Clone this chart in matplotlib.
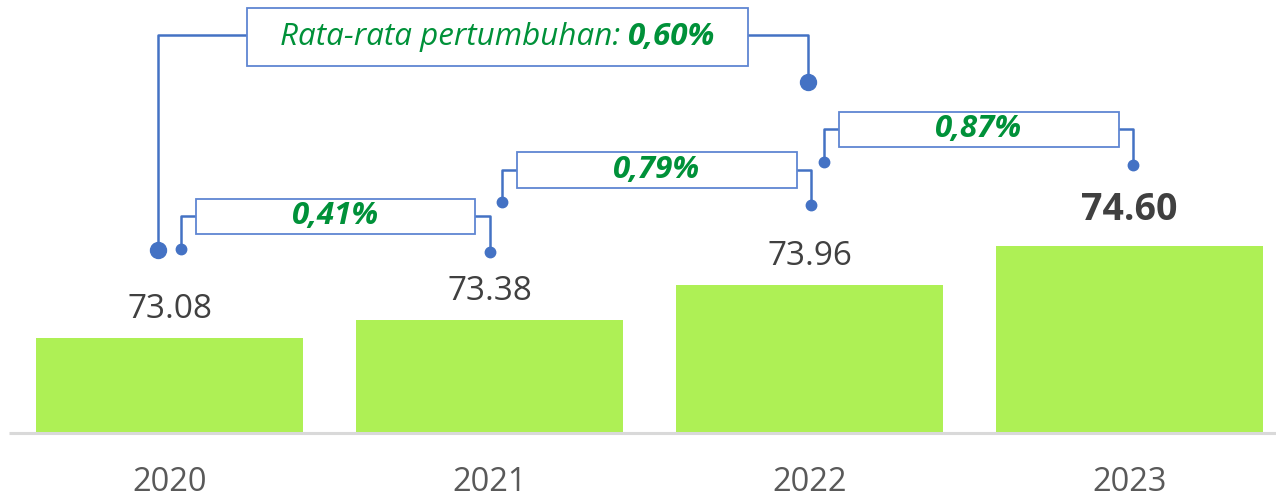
import matplotlib.pyplot as plt
from matplotlib.patches import Rectangle

# data
years = ['2020', '2021', '2022', '2023']
values = [73.08, 73.38, 73.96, 74.60]
growth = ['0,41%', '0,79%', '0,87%']
avg_text = 'Rata-rata pertumbuhan: '
avg_growth = '0,60%'

# colours
bar_col = '#AEF055'
blue = '#4472C4'
box_edge = '#5F86D2'
green = '#009139'

plt.rcParams['font.family'] = ['Open Sans', 'DejaVu Sans']

fig = plt.figure(figsize=(12.76, 4.99), dpi=100)
ax = fig.add_axes([0, 67 / 499, 1, 432 / 499])
ymin = 71.526
ax.set_ylim(ymin, ymin + 432 / 60.5)
ax.set_xlim(-0.5297, 3.4578)
ax.axis('off')

x = list(range(len(years)))
ax.bar(x, [v - ymin for v in values], bottom=ymin, width=0.834, color=bar_col, zorder=2)
ax.plot([-0.502, 3.46], [ymin - 0.01, ymin - 0.01], color='#D9D9D9', lw=2.2,
        clip_on=False, zorder=1, solid_capstyle='butt')

# value labels
for i, v in enumerate(values):
    last = i == len(values) - 1
    ax.annotate(f'{v:.2f}', (i, v), xytext=(0, 19 if last else 14.5),
                textcoords='offset points', ha='center', va='baseline',
                fontsize=27 if last else 24, color='#404040',
                fontweight='bold' if last else 'normal')

# year labels
for i, y in enumerate(years):
    ax.annotate(y, (i, ymin), xytext=(0, -42.5), textcoords='offset points',
                ha='center', va='baseline', fontsize=23.5, color='#595959')

# year-to-year growth brackets (layout in value units)
left_x = [0.036, 1.039, 2.045]
left_y = [74.55, 75.32, 75.99]
right_x = [1.002, 2.004, 3.010]
right_y = [74.50, 75.27, 75.94]
box_x0 = [0.082, 1.085, 2.091]
box_x1 = [0.956, 1.960, 2.966]
box_lo = [74.80, 75.56, 76.24]
box_hi = [75.38, 76.15, 76.82]

for k, g in enumerate(growth):
    mid = (box_lo[k] + box_hi[k]) / 2
    ax.plot([left_x[k], left_x[k], box_x0[k]], [left_y[k], mid, mid], color=blue, lw=1.8, zorder=3)
    ax.plot([box_x1[k], right_x[k], right_x[k]], [mid, mid, right_y[k]], color=blue, lw=1.8, zorder=3)
    ax.plot([left_x[k], right_x[k]], [left_y[k], right_y[k]], 'o', color=blue, ms=7.5, zorder=4)
    ax.add_patch(Rectangle((box_x0[k], box_lo[k]), box_x1[k] - box_x0[k], box_hi[k] - box_lo[k],
                           facecolor='white', edgecolor=box_edge, lw=1.3, zorder=3))
    ax.text((box_x0[k] + box_x1[k]) / 2, mid, g, ha='center', va='center', fontsize=22.5,
            fontweight='bold', fontstyle='italic', color=green, zorder=5)

# average growth bracket
big_lx, big_ly, big_top = -0.037, 74.534, 78.088
big_x0, big_x1, big_lo, big_hi = 0.242, 1.808, 77.576, 78.534
big_rx, big_ry = 1.995, 77.311
ax.plot([big_lx, big_lx, big_x0], [big_ly, big_top, big_top], color=blue, lw=1.8, zorder=3, clip_on=False)
ax.plot([big_x1, big_rx, big_rx], [big_top, big_top, big_ry], color=blue, lw=1.8, zorder=3, clip_on=False)
ax.plot([big_lx, big_rx], [big_ly, big_ry], 'o', color=blue, ms=11.5, zorder=4)
ax.add_patch(Rectangle((big_x0, big_lo), big_x1 - big_x0, big_hi - big_lo,
                       facecolor='white', edgecolor=box_edge, lw=1.3, zorder=3, clip_on=False))

big_mid = (big_lo + big_hi) / 2
t1 = ax.text(0, big_mid, avg_text, ha='left', va='center', fontsize=22.6,
             fontstyle='italic', color=green, zorder=5)
t2 = ax.text(0, big_mid, avg_growth, ha='left', va='center', fontsize=22.6,
             fontstyle='italic', fontweight='bold', color=green, zorder=5)
fig.canvas.draw()
r = fig.canvas.get_renderer()
w1 = t1.get_window_extent(r).width
w2 = t2.get_window_extent(r).width
cx = ax.transData.transform(((big_x0 + big_x1) / 2, big_mid))[0]
inv = ax.transData.inverted()
t1.set_x(inv.transform((cx - (w1 + w2) / 2, 0))[0])
t2.set_x(inv.transform((cx - (w1 + w2) / 2 + w1, 0))[0])

fig.savefig('out.png', dpi=100)
